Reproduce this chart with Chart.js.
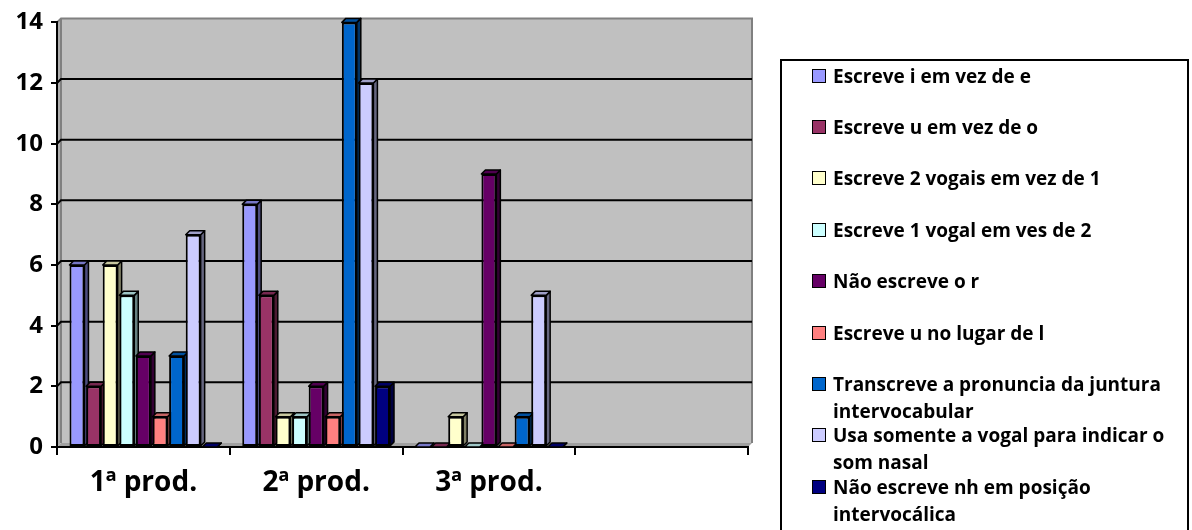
<!DOCTYPE html>
<html><head><meta charset="utf-8">
<script src="https://cdn.jsdelivr.net/npm/chart.js@4.4.0/dist/chart.umd.min.js"></script>
<style>
html,body{margin:0;padding:0;background:#fff;width:1192px;height:530px;overflow:hidden;}
#wrap{position:relative;width:1192px;height:530px;}
#c{position:absolute;left:0;top:0;}
#legend{position:absolute;left:780px;top:59px;width:409px;height:490px;border:2px solid #000;box-sizing:border-box;font-family:'Open Sans',sans-serif;font-weight:bold;font-size:19px;color:#000;}
.sw{position:absolute;left:30px;width:12px;height:12px;border:1.5px solid #000;}
.tx{position:absolute;left:51px;line-height:27px;white-space:nowrap;}
</style></head>
<body><div id="wrap"><canvas id="c" width="1192" height="530"></canvas><div id="legend"></div></div>
<script>
const categories = ['1ª prod.', '2ª prod.', '3ª prod.', ''];
const yTicks = [0, 2, 4, 6, 8, 10, 12, 14];
const seriesNames = [
  ['Escreve i em vez de e'],
  ['Escreve u em vez de o'],
  ['Escreve 2 vogais em vez de 1'],
  ['Escreve 1 vogal em ves de 2'],
  ['Não escreve o r'],
  ['Escreve u no lugar de l'],
  ['Transcreve a pronuncia da juntura', 'intervocabular'],
  ['Usa somente a vogal para indicar o', 'som nasal'],
  ['Não escreve nh em posição', 'intervocálica']
];
const escreveIemVezDeE   = [6, 8, 0, null];
const escreveUemVezDeO   = [2, 5, 0, null];
const escreve2Vogais     = [6, 1, 1, null];
const escreve1Vogal      = [5, 1, 0, null];
const naoEscreveR        = [3, 2, 9, null];
const escreveUnoLugarL   = [1, 1, 0, null];
const transcreveJuntura  = [3, 14, 1, null];
const usaSomenteVogal    = [7, 12, 5, null];
const naoEscreveNh       = [0, 2, 0, null];
const seriesValues = [escreveIemVezDeE, escreveUemVezDeO, escreve2Vogais, escreve1Vogal,
  naoEscreveR, escreveUnoLugarL, transcreveJuntura, usaSomenteVogal, naoEscreveNh];
const seriesColors = ['#9999FF', '#993366', '#FFFFCC', '#CCFFFF', '#660066', '#FF8080', '#0066CC', '#CCCCFF', '#000080'];

const DEPTH = 4;
function shade(hex, f) {
  const n = parseInt(hex.slice(1), 16);
  const r = Math.round(((n >> 16) & 255) * f), g = Math.round(((n >> 8) & 255) * f), b = Math.round((n & 255) * f);
  return 'rgb(' + r + ',' + g + ',' + b + ')';
}

const wallPlugin = {
  id: 'wall3d',
  beforeDraw(chart) {
    const ctx = chart.ctx, y = chart.scales.y, a = chart.chartArea, d = DEPTH;
    const yTop = y.getPixelForValue(y.max), y0 = y.getPixelForValue(0);
    const L = a.left, R = a.right;
    ctx.save();
    ctx.fillStyle = '#C0C0C0';
    ctx.fillRect(L + d, yTop - d, R - L, y0 - yTop);
    ctx.fillStyle = '#ADADAD';
    ctx.beginPath();
    ctx.moveTo(L, yTop); ctx.lineTo(L + d, yTop - d); ctx.lineTo(L + d, y0 - d); ctx.lineTo(L, y0); ctx.closePath(); ctx.fill();
    ctx.fillStyle = '#A0A0A0';
    ctx.beginPath();
    ctx.moveTo(L, y0); ctx.lineTo(L + d, y0 - d); ctx.lineTo(R + d, y0 - d); ctx.lineTo(R, y0); ctx.closePath(); ctx.fill();
    ctx.strokeStyle = '#808080'; ctx.lineWidth = 2;
    ctx.beginPath();
    ctx.moveTo(L, yTop); ctx.lineTo(L + d, yTop - d); ctx.lineTo(R + d, yTop - d); ctx.lineTo(R + d, y0 - d);
    ctx.moveTo(L + d, yTop - d); ctx.lineTo(L + d, y0 - d);
    ctx.stroke();
    ctx.strokeStyle = '#000'; ctx.lineWidth = 2;
    y.ticks.forEach(t => {
      if (t.value <= y.min || t.value >= y.max) return;
      const py = y.getPixelForValue(t.value);
      ctx.beginPath();
      ctx.moveTo(L, py); ctx.lineTo(L + d, py - d); ctx.lineTo(R + d, py - d);
      ctx.stroke();
    });
    ctx.restore();
  },
  beforeDatasetsDraw(chart) {
    const ctx = chart.ctx, d = DEPTH;
    ctx.save();
    ctx.lineWidth = 1.5; ctx.strokeStyle = '#000'; ctx.lineJoin = 'round';
    chart.data.datasets.forEach((ds, i) => {
      const meta = chart.getDatasetMeta(i);
      const col = seriesColors[i];
      meta.data.forEach((bar, j) => {
        if (ds.data[j] === null || ds.data[j] === undefined) return;
        const p = bar.getProps(['x', 'y', 'base', 'width'], true);
        const l = p.x - p.width / 2, r = p.x + p.width / 2, t = Math.min(p.y, p.base), b = Math.max(p.y, p.base);
        ctx.fillStyle = shade(col, 0.5);
        ctx.beginPath();
        ctx.moveTo(r, t); ctx.lineTo(r + d, t - d); ctx.lineTo(r + d, b - d); ctx.lineTo(r, b); ctx.closePath();
        ctx.fill(); ctx.stroke();
        ctx.fillStyle = shade(col, 0.78);
        ctx.beginPath();
        ctx.moveTo(l, t); ctx.lineTo(l + d, t - d); ctx.lineTo(r + d, t - d); ctx.lineTo(r, t); ctx.closePath();
        ctx.fill(); ctx.stroke();
      });
    });
    ctx.restore();
  }
};

function build() {
  const datasets = seriesValues.map((vals, i) => ({
    label: seriesNames[i].join(' '),
    data: vals,
    backgroundColor: seriesColors[i],
    borderColor: '#000',
    borderWidth: 2,
    borderSkipped: false,
    categoryPercentage: 0.865,
    barPercentage: 0.9
  }));
  new Chart(document.getElementById('c'), {
    type: 'bar',
    data: { labels: categories, datasets },
    plugins: [wallPlugin],
    options: {
      responsive: false, animation: false, devicePixelRatio: 1,
      layout: { padding: { top: 19, right: 444, left: 0, bottom: 0 } },
      plugins: { legend: { display: false }, tooltip: { enabled: false } },
      scales: {
        x: {
          afterFit(s) { s.height = 83; },
          grid: { display: true, drawOnChartArea: false, drawTicks: true, tickLength: 8, color: '#000', lineWidth: 2, offset: true },
          border: { display: true, color: '#000', width: 2 },
          ticks: { color: '#000', font: { family: 'Open Sans', weight: 'bold', size: 28 }, padding: 11 }
        },
        y: {
          min: 0, max: 14,
          afterFit(s) { s.width = 57; },
          afterBuildTicks(s) { s.ticks = yTicks.map(v => ({ value: v })); },
          grid: { display: true, drawOnChartArea: false, drawTicks: true, tickLength: 6, color: '#000', lineWidth: 2 },
          border: { display: true, color: '#000', width: 2 },
          ticks: { color: '#000', font: { family: 'Open Sans', weight: 'bold', size: 24 }, padding: 8 }
        }
      }
    }
  });
  const lg = document.getElementById('legend');
  const innerTop = 61;
  seriesNames.forEach((lines, i) => {
    const cy = 76 + 51.4 * i;
    const sw = document.createElement('div');
    sw.className = 'sw';
    sw.style.background = seriesColors[i];
    sw.style.top = (cy - 7.5 - innerTop) + 'px';
    lg.appendChild(sw);
    const tx = document.createElement('div');
    tx.className = 'tx';
    tx.style.top = (cy - 13.5 - innerTop) + 'px';
    tx.innerHTML = lines.join('<br>');
    lg.appendChild(tx);
  });
}
if (document.fonts && document.fonts.load) {
  Promise.all([document.fonts.load('bold 24px "Open Sans"'), document.fonts.load('bold 19px "Open Sans"')]).then(build, build);
} else build();
</script>
</body></html>
